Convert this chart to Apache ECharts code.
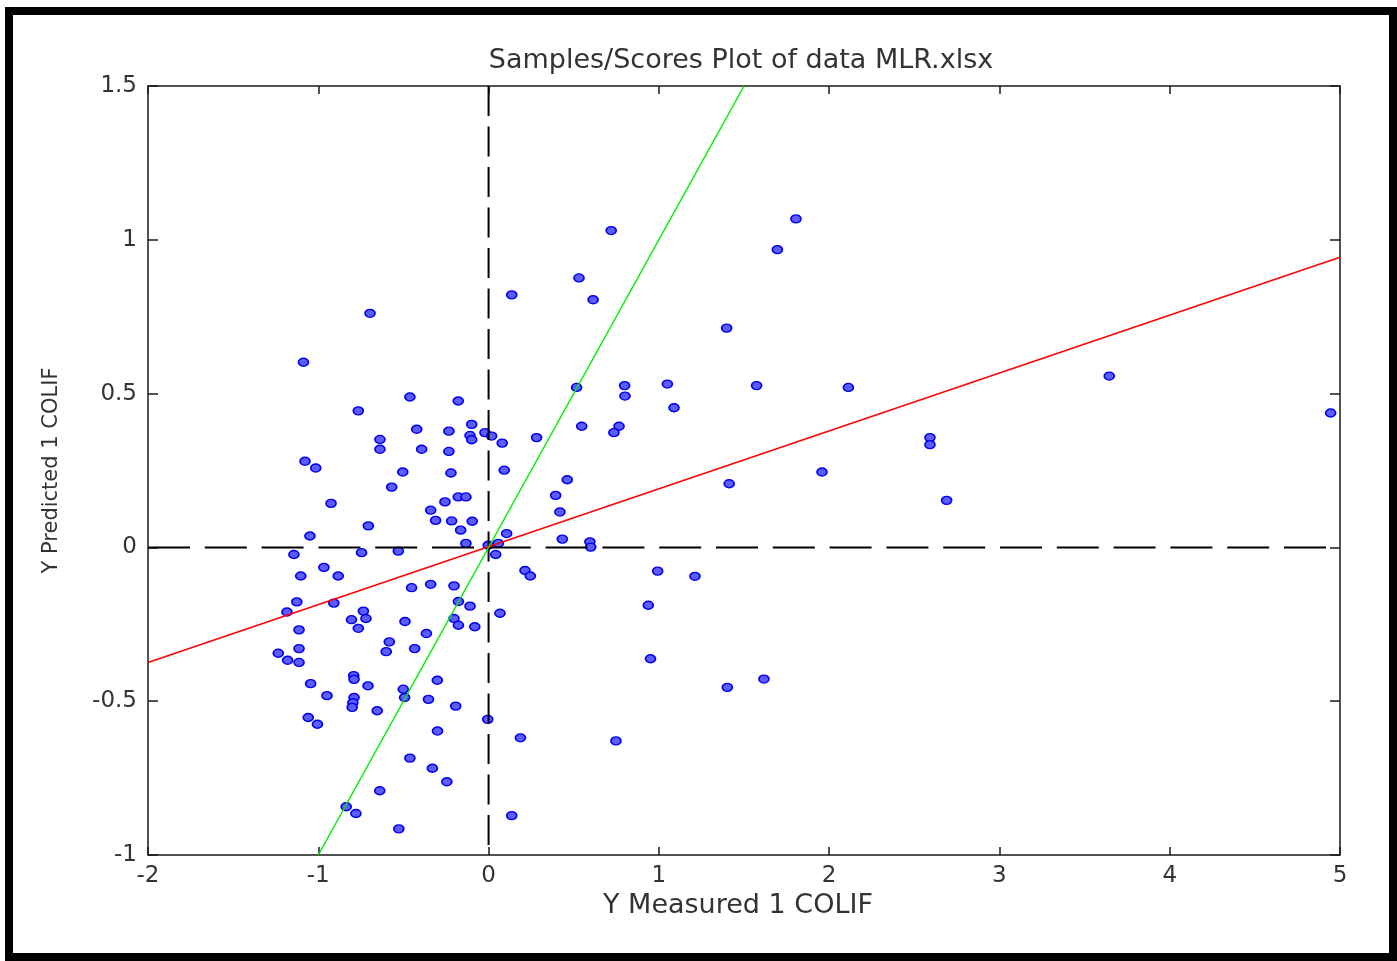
<!DOCTYPE html>
<html>
<head>
<meta charset="utf-8">
<title>Samples/Scores Plot of data MLR.xlsx</title>
<script src="https://cdn.jsdelivr.net/npm/echarts@6/dist/echarts.min.js"></script>
<style>
  html, body { margin: 0; padding: 0; background: #fff; }
  #main { width: 1397px; height: 961px; }
</style>
</head>
<body>
<div id="main"></div>
<script>
// [Y measured, Y predicted] for 1 COLIF
var samples = [
  [0.136, 0.821], [-0.696, 0.761], [-1.087, 0.602], [-0.462, 0.489], [-0.178, 0.476],
  [-0.765, 0.444], [-0.099, 0.400], [-0.422, 0.384], [-0.233, 0.378], [-0.109, 0.364],
  [-0.099, 0.350], [-0.021, 0.373], [0.018, 0.362], [0.080, 0.339], [0.282, 0.357],
  [-0.638, 0.351], [-0.638, 0.319], [-0.393, 0.319], [-0.233, 0.312], [-1.078, 0.280],
  [-1.015, 0.258], [0.092, 0.251], [-0.504, 0.245], [-0.221, 0.242], [-0.569, 0.196],
  [-0.178, 0.164], [-0.133, 0.164], [-0.925, 0.143], [-0.256, 0.148], [-0.340, 0.121],
  [-0.311, 0.088], [-0.217, 0.086], [-0.096, 0.085], [-0.164, 0.056], [-0.706, 0.070],
  [-1.049, 0.037], [0.106, 0.045], [-0.133, 0.013], [-0.002, 0.007], [0.057, 0.013],
  [-1.143, -0.023], [-0.746, -0.017], [-0.530, -0.012], [0.042, -0.023], [0.214, -0.075],
  [0.245, -0.093], [-0.967, -0.065], [-0.883, -0.093], [-1.103, -0.093], [-0.452, -0.131],
  [-0.340, -0.120], [-0.203, -0.125], [-1.126, -0.177], [-0.909, -0.181], [-1.184, -0.210],
  [-0.177, -0.176], [-0.109, -0.191], [0.067, -0.214], [-0.735, -0.207], [-0.805, -0.235],
  [-0.720, -0.231], [-0.765, -0.263], [-0.491, -0.241], [-0.203, -0.231], [-0.177, -0.253],
  [-0.081, -0.258], [-1.113, -0.268], [-0.365, -0.280], [-0.583, -0.307], [-0.601, -0.339],
  [-0.434, -0.329], [-1.113, -0.329], [-1.235, -0.344], [-1.180, -0.367], [-1.113, -0.374],
  [-1.045, -0.443], [-0.949, -0.482], [-0.792, -0.417], [-0.790, -0.429], [-0.708, -0.450],
  [-0.501, -0.461], [-0.493, -0.488], [-0.301, -0.432], [-0.353, -0.494], [-0.193, -0.516],
  [-0.790, -0.488], [-0.797, -0.505], [-0.801, -0.520], [-0.654, -0.531], [-1.059, -0.553],
  [-1.005, -0.575], [-0.005, -0.559], [-0.300, -0.597], [0.187, -0.619], [0.748, -0.629],
  [-0.462, -0.685], [-0.330, -0.718], [-0.245, -0.762], [-0.639, -0.791], [-0.836, -0.843],
  [-0.779, -0.865], [-0.527, -0.915], [0.136, -0.872], [0.720, 1.030], [1.805, 1.068],
  [1.696, 0.968], [0.531, 0.876], [0.614, 0.805], [1.398, 0.713], [0.517, 0.520],
  [0.799, 0.526], [0.801, 0.492], [1.050, 0.531], [1.089, 0.454], [1.574, 0.526],
  [2.113, 0.520], [0.547, 0.394], [0.766, 0.394], [0.736, 0.373], [0.462, 0.220],
  [0.394, 0.169], [0.419, 0.115], [1.958, 0.245], [1.413, 0.207], [0.433, 0.027],
  [0.595, 0.018], [0.600, 0.001], [0.993, -0.077], [1.212, -0.094], [0.938, -0.188],
  [0.951, -0.362], [1.617, -0.428], [1.402, -0.455], [2.592, 0.357], [2.592, 0.334],
  [2.690, 0.153], [3.645, 0.557], [4.945, 0.437]
];

// regression line (red) and 1:1 line (green)
var fitX = [-2, 5];
var fitY = [-0.374, 0.943];
var unityX = [-1, 1.5];
var unityY = [-1, 1.5];

var xRange = [-2, 5];
var yRange = [-1, 1.5];

var font = 'DejaVu Sans';
var ink = '#333';

function pairs(xs, ys) {
  return xs.map(function (x, i) { return [x, ys[i]]; });
}

var boxLine = { onZero: false, lineStyle: { color: '#1a1a1a', width: 1.5 } };

var myChart = echarts.init(document.getElementById('main'));

myChart.setOption({
  animation: false,
  backgroundColor: '#fff',
  title: {
    text: 'Samples/Scores Plot of data MLR.xlsx',
    left: 741,
    top: 47,
    padding: 0,
    textAlign: 'center',
    textStyle: { fontFamily: font, fontSize: 27, fontWeight: 'normal', color: ink }
  },
  grid: { left: 148, right: 57, top: 86, bottom: 106 },
  xAxis: [
    {
      type: 'value', min: xRange[0], max: xRange[1], interval: 1, position: 'bottom',
      axisLine: boxLine,
      axisTick: { inside: true, length: 8, lineStyle: { color: '#1a1a1a', width: 1.5 } },
      axisLabel: { fontFamily: font, fontSize: 23, color: ink, margin: 10 },
      splitLine: { show: false },
      name: 'Y Measured 1 COLIF',
      nameLocation: 'middle',
      nameGap: 34,
      nameTextStyle: { fontFamily: font, fontSize: 27, color: ink, padding: [0, 12, 0, 0] }
    },
    {
      type: 'value', min: xRange[0], max: xRange[1], interval: 1, position: 'top',
      axisLine: boxLine,
      axisTick: { inside: true, length: 8, lineStyle: { color: '#1a1a1a', width: 1.5 } },
      axisLabel: { show: false },
      splitLine: { show: false }
    }
  ],
  yAxis: [
    {
      type: 'value', min: yRange[0], max: yRange[1], interval: 0.5, position: 'left',
      axisLine: boxLine,
      axisTick: { inside: true, length: 10, lineStyle: { color: '#1a1a1a', width: 1.5 } },
      axisLabel: { fontFamily: font, fontSize: 23, color: ink, margin: 11 },
      splitLine: { show: false },
      name: 'Y Predicted 1 COLIF',
      nameLocation: 'middle',
      nameGap: 86,
      nameTextStyle: { fontFamily: font, fontSize: 21, color: ink }
    },
    {
      type: 'value', min: yRange[0], max: yRange[1], interval: 0.5, position: 'right',
      axisLine: boxLine,
      axisTick: { inside: true, length: 10, lineStyle: { color: '#1a1a1a', width: 1.5 } },
      axisLabel: { show: false },
      splitLine: { show: false }
    }
  ],
  series: [
    {
      type: 'scatter',
      data: samples,
      symbol: 'circle',
      symbolSize: [10, 8],
      itemStyle: { color: '#5c5cff', borderColor: '#0000f0', borderWidth: 1.5, opacity: 1 },
      z: 2
    },
    {
      type: 'line',
      data: pairs([xRange[0], xRange[1]], [0, 0]),
      symbol: 'none',
      lineStyle: { color: '#000', width: 2, type: [42, 14.8] },
      z: 3
    },
    {
      type: 'line',
      data: pairs([0, 0], [yRange[1], yRange[0]]),
      symbol: 'none',
      lineStyle: { color: '#000', width: 2, type: [30, 10.5] },
      z: 3
    },
    {
      type: 'line',
      data: pairs(fitX, fitY),
      symbol: 'none',
      lineStyle: { color: '#ff0000', width: 1.5 },
      z: 4
    },
    {
      type: 'line',
      data: pairs(unityX, unityY),
      symbol: 'none',
      lineStyle: { color: '#00ee00', width: 1.5 },
      z: 4
    }
  ],
  graphic: [
    {
      type: 'rect',
      silent: true,
      z: 100,
      shape: { x: 9, y: 11, width: 1384, height: 946 },
      style: { fill: 'none', stroke: '#000', lineWidth: 8 }
    }
  ]
});
</script>
</body>
</html>
